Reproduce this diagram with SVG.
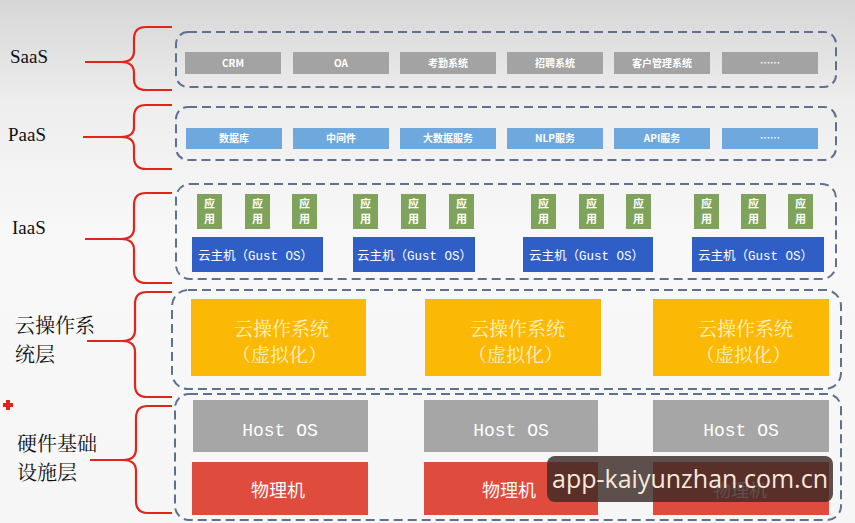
<svg xmlns="http://www.w3.org/2000/svg" width="855" height="523" viewBox="0 0 855 523">
<defs>
<linearGradient id="bg" x1="0" y1="0" x2="0" y2="1">
<stop offset="0" stop-color="#d6d6d6"/>
<stop offset="0.2" stop-color="#eeeeee"/>
<stop offset="0.45" stop-color="#f8f8f8"/>
<stop offset="1" stop-color="#f6f6f6"/>
</linearGradient>
<style>
.layer{fill:none;stroke:#5f7190;stroke-width:2;stroke-dasharray:9 5}
.brace{fill:none;stroke:#e0251c;stroke-width:2.2}
.lbl{font-family:"Liberation Serif","Noto Sans CJK SC",serif;font-size:19px;fill:#111}
.lblc{font-family:"Noto Serif CJK SC","Noto Sans CJK SC",serif;font-size:20px;fill:#111}
.saas{fill:#a3a3a3}
.paas{fill:#6fa8dc}
.small{font-family:"Noto Sans CJK SC","Liberation Sans",sans-serif;font-size:10px;fill:#fff;text-anchor:middle;font-weight:bold}
.app{fill:#80a35b}
.apptxt{font-family:"Noto Sans CJK SC",sans-serif;font-size:11px;fill:#fff;text-anchor:middle;font-weight:bold}
.vm{fill:#2f5fc6}
.vmtxt{font-family:"Liberation Mono","Noto Sans CJK SC",monospace;font-size:12.5px;fill:#fff}
.cos{fill:#fbb906}
.costxt{font-family:"Noto Serif CJK SC","Noto Sans CJK SC",serif;font-size:19px;fill:#fdf0c8}
.host{fill:#a6a6a6}
.hosttxt{font-family:"Liberation Mono",monospace;font-size:18px;fill:#fff;text-anchor:middle}
.pm{fill:#df4b3c}
.pmtxt{font-family:"Noto Sans CJK SC",sans-serif;font-size:18px;fill:#fff;text-anchor:middle}
</style>
</defs>
<rect x="0" y="0" width="855" height="523" fill="url(#bg)"/>

<g id="connectors">
<path class="brace" d="M172,27 H146 Q134,27 134,39 V51 Q134,62 121,62 Q134,62 134,73 V79 Q134,90 146,90 H172 M85,62 H121"/>
<path class="brace" d="M172,105 H146 Q134,105 134,117 V127 Q134,137 121,137 Q134,137 134,147 V157 Q134,169 146,169 H172 M83,137 H121"/>
<path class="brace" d="M172,193 H146 Q134,193 134,205 V228 Q134,239 121,239 Q134,239 134,250 V271 Q134,283 146,283 H172 M85,239 H121"/>
<path class="brace" d="M172,292 H147 Q135,292 135,304 V330 Q135,341 122,341 Q135,341 135,352 V385 Q135,397 147,397 H172 M87,341 H122"/>
<path class="brace" d="M172,406 H148 Q136,406 136,418 V449 Q136,460 123,460 Q136,460 136,471 V501 Q136,513 148,513 H172 M90,460 H123"/>
<path d="M3,405 H13 M8,400 V410" stroke="#e0251c" stroke-width="4"/>
</g>

<g id="labels">
<text class="lbl" x="10" y="63">SaaS</text>
<text class="lbl" x="8" y="141">PaaS</text>
<text class="lbl" x="12" y="234">IaaS</text>
<text class="lblc" x="15" y="333">云操作系</text>
<text class="lblc" x="15" y="362">统层</text>
<text class="lblc" x="17" y="451">硬件基础</text>
<text class="lblc" x="17" y="480">设施层</text>
</g>

<g id="saas">
<rect class="layer" x="176" y="32" width="660" height="55" rx="12"/>
<rect class="saas" x="185" y="52" width="96" height="22"/><text class="small" x="233" y="67">CRM</text>
<rect class="saas" x="293" y="52" width="96" height="22"/><text class="small" x="341" y="67">OA</text>
<rect class="saas" x="400" y="52" width="96" height="22"/><text class="small" x="448" y="67">考勤系统</text>
<rect class="saas" x="507" y="52" width="96" height="22"/><text class="small" x="555" y="67">招聘系统</text>
<rect class="saas" x="614" y="52" width="96" height="22"/><text class="small" x="662" y="67">客户管理系统</text>
<rect class="saas" x="722" y="52" width="96" height="22"/><text class="small" x="770" y="67">……</text>
</g>

<g id="paas">
<rect class="layer" x="176" y="107" width="660" height="53" rx="12"/>
<rect class="paas" x="186" y="128" width="96" height="21"/><text class="small" x="234" y="142">数据库</text>
<rect class="paas" x="293" y="128" width="96" height="21"/><text class="small" x="341" y="142">中间件</text>
<rect class="paas" x="400" y="128" width="96" height="21"/><text class="small" x="448" y="142">大数据服务</text>
<rect class="paas" x="507" y="128" width="96" height="21"/><text class="small" x="555" y="142">NLP服务</text>
<rect class="paas" x="614" y="128" width="96" height="21"/><text class="small" x="662" y="142">API服务</text>
<rect class="paas" x="722" y="128" width="96" height="21"/><text class="small" x="770" y="142">……</text>
</g>

<g id="iaas">
<rect class="layer" x="176" y="184" width="660" height="95" rx="14"/>
<g id="vm1">
<rect class="app" x="197" y="194" width="25" height="35"/><text class="apptxt" x="209.5" y="208">应</text><text class="apptxt" x="209.5" y="223">用</text>
<rect class="app" x="245" y="194" width="25" height="35"/><text class="apptxt" x="257.5" y="208">应</text><text class="apptxt" x="257.5" y="223">用</text>
<rect class="app" x="292" y="194" width="25" height="35"/><text class="apptxt" x="304.5" y="208">应</text><text class="apptxt" x="304.5" y="223">用</text>
<rect class="vm" x="192" y="237" width="131" height="35"/><text class="vmtxt" x="198" y="260">云主机（Gust OS）</text>
</g>
<g id="vm2">
<rect class="app" x="353" y="194" width="25" height="35"/><text class="apptxt" x="365.5" y="208">应</text><text class="apptxt" x="365.5" y="223">用</text>
<rect class="app" x="401" y="194" width="25" height="35"/><text class="apptxt" x="413.5" y="208">应</text><text class="apptxt" x="413.5" y="223">用</text>
<rect class="app" x="449" y="194" width="25" height="35"/><text class="apptxt" x="461.5" y="208">应</text><text class="apptxt" x="461.5" y="223">用</text>
<rect class="vm" x="353" y="237" width="122" height="35"/><text class="vmtxt" x="357" y="260">云主机（Gust OS）</text>
</g>
<g id="vm3">
<rect class="app" x="531" y="194" width="25" height="35"/><text class="apptxt" x="543.5" y="208">应</text><text class="apptxt" x="543.5" y="223">用</text>
<rect class="app" x="579" y="194" width="25" height="35"/><text class="apptxt" x="591.5" y="208">应</text><text class="apptxt" x="591.5" y="223">用</text>
<rect class="app" x="626" y="194" width="25" height="35"/><text class="apptxt" x="638.5" y="208">应</text><text class="apptxt" x="638.5" y="223">用</text>
<rect class="vm" x="523" y="237" width="130" height="35"/><text class="vmtxt" x="529" y="260">云主机（Gust OS）</text>
</g>
<g id="vm4">
<rect class="app" x="694" y="194" width="25" height="35"/><text class="apptxt" x="706.5" y="208">应</text><text class="apptxt" x="706.5" y="223">用</text>
<rect class="app" x="741" y="194" width="25" height="35"/><text class="apptxt" x="753.5" y="208">应</text><text class="apptxt" x="753.5" y="223">用</text>
<rect class="app" x="788" y="194" width="25" height="35"/><text class="apptxt" x="800.5" y="208">应</text><text class="apptxt" x="800.5" y="223">用</text>
<rect class="vm" x="692" y="237" width="132" height="35"/><text class="vmtxt" x="698" y="260">云主机（Gust OS）</text>
</g>
</g>

<g id="cloudos">
<rect class="layer" x="172" y="290" width="669" height="99" rx="16"/>
<rect class="cos" x="191" y="299" width="175" height="77"/><text class="costxt" x="234" y="336">云操作系统</text><text class="costxt" x="232" y="362">（虚拟化）</text>
<rect class="cos" x="425" y="299" width="176" height="77"/><text class="costxt" x="470" y="336">云操作系统</text><text class="costxt" x="468" y="362">（虚拟化）</text>
<rect class="cos" x="653" y="299" width="176" height="77"/><text class="costxt" x="698" y="336">云操作系统</text><text class="costxt" x="696" y="362">（虚拟化）</text>
</g>

<g id="hardware">
<rect class="layer" x="175" y="394" width="666" height="126" rx="14"/>
<rect class="host" x="193" y="400" width="175" height="52"/><text class="hosttxt" x="280" y="436">Host  OS</text>
<rect class="host" x="424" y="400" width="174" height="52"/><text class="hosttxt" x="511" y="436">Host  OS</text>
<rect class="host" x="653" y="400" width="176" height="52"/><text class="hosttxt" x="741" y="436">Host  OS</text>
<rect class="pm" x="192" y="462" width="176" height="53"/><text class="pmtxt" x="278" y="497">物理机</text>
<rect class="pm" x="424" y="462" width="174" height="53"/><text class="pmtxt" x="509" y="497">物理机</text>
<rect class="pm" x="653" y="462" width="176" height="53"/><text class="pmtxt" x="740" y="497">物理机</text>
</g>

<g id="watermark">
<rect x="547" y="456" width="286" height="46" rx="8" fill="#3b2a24" fill-opacity="0.82"/>
<text x="690" y="488" font-family="'Open Sans','Noto Sans',sans-serif" font-size="25" fill="#f6e9dc" text-anchor="middle">app-kaiyunzhan.com.cn</text>
</g>
</svg>
